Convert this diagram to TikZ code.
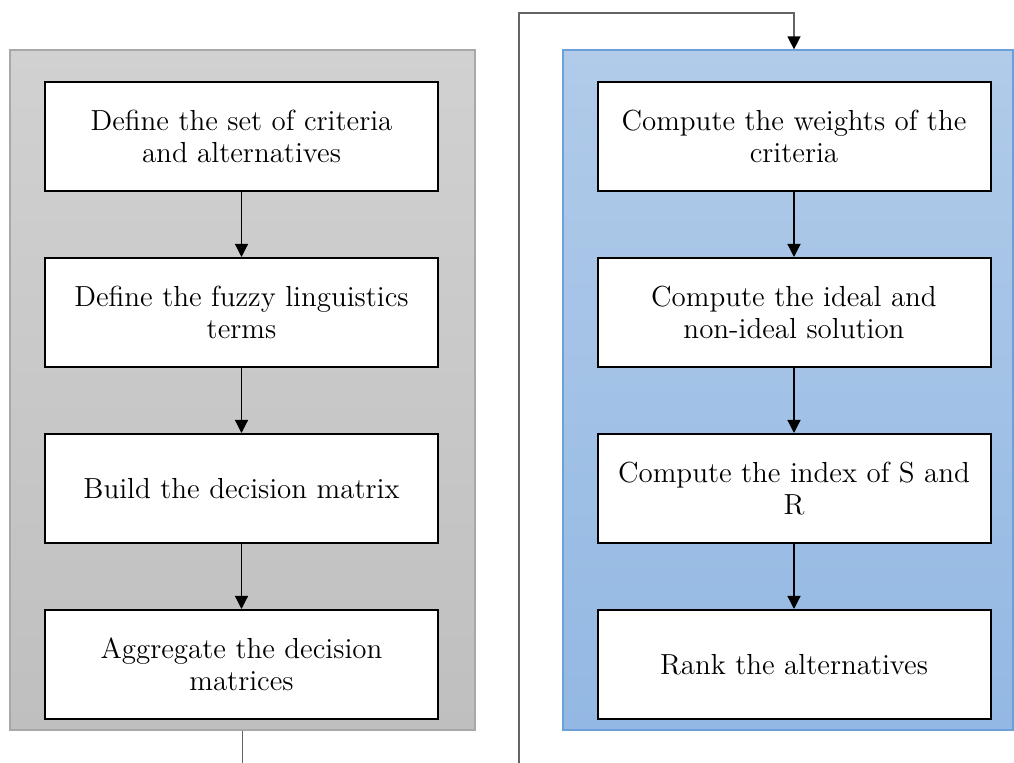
\documentclass[tikz,border=0pt]{standalone}
\definecolor{greytop}{RGB}{209,209,209}
\definecolor{greybot}{RGB}{191,191,191}
\definecolor{greyedge}{RGB}{168,168,168}
\definecolor{bluetop}{RGB}{177,203,233}
\definecolor{bluebot}{RGB}{147,184,227}
\definecolor{blueedge}{RGB}{108,160,218}
\definecolor{wire}{RGB}{100,100,100}
\usepackage{tikz}
\usetikzlibrary{arrows.meta,positioning}
\tikzset{
  panel/.style={rectangle, inner sep=0pt, line width=0.6pt},
  greypanel/.style={panel, draw=greyedge, top color=greytop, bottom color=greybot},
  bluepanel/.style={panel, draw=blueedge, top color=bluetop, bottom color=bluebot},
  stepbox/.style={draw=black, line width=1pt, fill=white, minimum width=196.5pt,
              minimum height=54.5pt, align=center, inner sep=2pt,
              font=\fontsize{14.5}{16}\selectfont},
  flow/.style={-{Triangle[length=6.5pt, width=6.5pt]}, black, line width=0.6pt},
  loopline/.style={wire, line width=0.7pt, -{Triangle[length=6.5pt, width=6.5pt, color=black]}},
}

\begin{document}
\begin{tikzpicture}[x=0.5pt, y=-0.5pt]
    \useasboundingbox (0,0) rectangle (1014,763);
    % --- panels ---
    \node[greypanel, minimum width=232.5pt, minimum height=340pt] (grey) at (242.5,390) {};
    \node[bluepanel, minimum width=225pt, minimum height=340pt] (blue) at (788,390) {};
    % --- left column ---
    \node[stepbox] (define) at (241.5,136.5) {Define the set of criteria\\and alternatives};
    \node[stepbox, below=32.5pt of define] (fuzzy) {Define the fuzzy linguistics\\terms};
    \node[stepbox, below=32.5pt of fuzzy] (build) {Build the decision matrix};
    \node[stepbox, below=32.5pt of build] (aggr) {Aggregate the decision\\matrices};
    % --- right column ---
    \node[stepbox] (weights) at (794,136.5) {Compute the weights of the\\criteria};
    \node[stepbox, below=32.5pt of weights] (ideal) {Compute the ideal and\\non-ideal solution};
    \node[stepbox, below=32.5pt of ideal] (index) {Compute the index of S and\\R};
    \node[stepbox, below=32.5pt of index] (rank) {Rank the alternatives};
    \draw[flow] (define) -- (fuzzy);
    \draw[flow] (fuzzy) -- (build);
    \draw[flow] (build) -- (aggr);
    \draw[flow] (weights) -- (ideal);
    \draw[flow] (ideal) -- (index);
    \draw[flow] (index) -- (rank);
    % --- from one panel to the other, out of the page and back ---
    \coordinate (low) at (519,800);
    \coordinate (high) at (519,13);
    \begin{scope}
      \clip (0,0) rectangle (1014,763);
      \draw[loopline] (grey.south) |- (low) -- (high) -| (weights.north |- blue.north);
    \end{scope}
\end{tikzpicture}
\end{document}
